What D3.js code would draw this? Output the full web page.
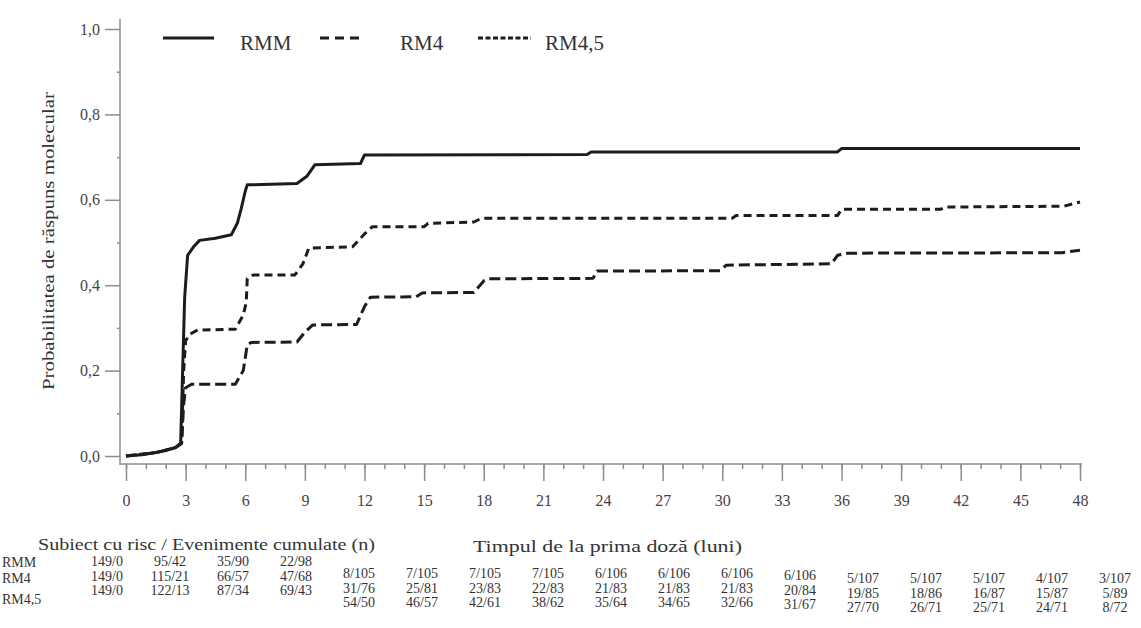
<!DOCTYPE html>
<html lang="ro">
  <head>
    <meta charset="UTF-8" />
    <title>Probabilitatea de răspuns molecular</title>
    <style>
      body {
        margin: 0;
        background: #fff;
      }
      svg text {
        font-family: "Liberation Serif", "DejaVu Serif", serif;
        fill: #333;
      }
      .axis path,
      .axis line {
        stroke: #8c8c8c;
        stroke-width: 1.5px;
      }
      .axis text {
        font-size: 16px;
        fill: #444;
      }
      .curve {
        fill: none;
        stroke: #1c1c1c;
        stroke-width: 3px;
        stroke-linejoin: round;
      }
    </style>
  </head>

  <body>
    <script src="https://cdn.jsdelivr.net/npm/d3@7"></script>
    <script>
      /* global d3 */

      const width = 1141,
        height = 628;

      // Kaplan-Meier curves, [months, probability]
      const rmm = [
        [0, 0], [0.8, 0.003], [1.5, 0.008], [2.0, 0.013], [2.5, 0.02],
        [2.75, 0.03], [2.85, 0.2], [2.95, 0.37], [3.1, 0.47], [3.4, 0.49],
        [3.7, 0.505], [4.5, 0.51], [5.3, 0.518], [5.6, 0.545], [5.8, 0.58],
        [6.0, 0.62], [6.1, 0.635], [8.6, 0.638], [9.1, 0.655], [9.5, 0.682],
        [11.8, 0.685], [12.0, 0.705], [23.2, 0.706], [23.4, 0.712],
        [35.8, 0.712], [36.0, 0.72], [48, 0.72]
      ];
      const rm4 = [
        [0, 0], [1.5, 0.008], [2.5, 0.02], [2.8, 0.03], [2.9, 0.2],
        [3.0, 0.27], [3.2, 0.285], [3.6, 0.295], [5.5, 0.297], [5.9, 0.33],
        [6.05, 0.36], [6.1, 0.415], [6.4, 0.424], [8.5, 0.424], [8.9, 0.45],
        [9.2, 0.487], [11.4, 0.49], [12.0, 0.52], [12.4, 0.537], [15.0, 0.537],
        [15.2, 0.545], [17.5, 0.548], [17.9, 0.557], [30.5, 0.557],
        [30.7, 0.563], [35.8, 0.563], [36.0, 0.578], [41.0, 0.578],
        [41.2, 0.583], [47.2, 0.585], [48, 0.595]
      ];
      const rm45 = [
        [0, 0], [1.5, 0.008], [2.5, 0.02], [2.8, 0.03], [2.9, 0.12],
        [3.0, 0.16], [3.3, 0.168], [5.5, 0.168], [5.9, 0.2], [6.1, 0.26],
        [6.3, 0.266], [8.6, 0.267], [9.0, 0.29], [9.4, 0.307], [11.6, 0.308],
        [12.0, 0.35], [12.3, 0.372], [14.6, 0.373], [14.9, 0.382],
        [17.5, 0.383], [18.0, 0.41], [18.2, 0.415], [23.5, 0.416],
        [23.7, 0.433], [29.9, 0.434], [30.2, 0.447], [35.5, 0.45],
        [35.8, 0.47], [36.3, 0.475], [47.1, 0.476], [48, 0.482]
      ];

      const seriesNames = ["RMM", "RM4", "RM4,5"];

      const xTicks = d3.range(0, 49, 3);
      const yTicks = [0, 0.2, 0.4, 0.6, 0.8, 1.0];

      // risk table: subjects at risk / cumulative events, one per x tick
      const riskRMM = ["149/0", "95/42", "35/90", "22/98", "8/105", "7/105", "7/105",
        "7/105", "6/106", "6/106", "6/106", "6/106", "5/107", "5/107", "5/107",
        "4/107", "3/107"];
      const riskRM4 = ["149/0", "115/21", "66/57", "47/68", "31/76", "25/81", "23/83",
        "22/83", "21/83", "21/83", "21/83", "20/84", "19/85", "18/86", "16/87",
        "15/87", "5/89"];
      const riskRM45 = ["149/0", "122/13", "87/34", "69/43", "54/50", "46/57", "42/61",
        "38/62", "35/64", "34/65", "32/66", "31/67", "27/70", "26/71", "25/71",
        "24/71", "8/72"];

      const svg = d3
        .select("body")
        .append("svg")
        .attr("width", width)
        .attr("height", height)
        .style("font-family", "'Liberation Serif', serif");

      const x = d3.scaleLinear().domain([0, 48]).range([126, 1080]);
      const y = d3.scaleLinear().domain([0, 1]).range([456, 29]);

      const fmt = d => d3.format(".1f")(d).replace(".", ",");

      // x axis (minor ticks every month, labels every 3)
      const xAxisY = 464;
      svg
        .append("g")
        .attr("class", "axis")
        .attr("transform", `translate(0,${xAxisY})`)
        .call(d3.axisBottom(x).tickValues(d3.range(0, 49, 1)).tickSize(5).tickFormat(""))
        .call(g => g.select(".domain").remove());
      svg
        .append("g")
        .attr("class", "axis")
        .attr("transform", `translate(0,${xAxisY})`)
        .call(d3.axisBottom(x).tickValues(xTicks).tickSize(17).tickPadding(14))
        .call(g => g.attr("font-family", null).select(".domain").remove());
      svg
        .append("line")
        .attr("x1", 121)
        .attr("x2", x(48) + 2)
        .attr("y1", xAxisY)
        .attr("y2", xAxisY)
        .attr("stroke", "#8c8c8c")
        .attr("stroke-width", 1.5);

      // y axis
      const yAxisX = 120;
      svg
        .append("g")
        .attr("class", "axis")
        .attr("transform", `translate(${yAxisX},0)`)
        .call(d3.axisLeft(y).tickValues(d3.range(0.1, 1, 0.2)).tickSize(3).tickFormat(""))
        .call(g => g.select(".domain").remove());
      svg
        .append("g")
        .attr("class", "axis")
        .attr("transform", `translate(${yAxisX},0)`)
        .call(d3.axisLeft(y).tickValues(yTicks).tickSize(15).tickPadding(5).tickFormat(fmt))
        .call(g => g.attr("font-family", null).select(".domain").remove());
      svg
        .append("line")
        .attr("x1", yAxisX)
        .attr("x2", yAxisX)
        .attr("y1", y(1) - 10)
        .attr("y2", xAxisY + 1)
        .attr("stroke", "#8c8c8c")
        .attr("stroke-width", 1.5);

      svg
        .append("text")
        .attr("transform", "translate(54,241) rotate(-90)")
        .attr("text-anchor", "middle")
        .attr("textLength", 298)
        .attr("lengthAdjust", "spacingAndGlyphs")
        .style("font-size", "17px")
        .text("Probabilitatea de răspuns molecular");

      // curves
      const line = d3
        .line()
        .x(d => x(d[0]))
        .y(d => y(d[1]));

      const curves = [
        { name: "RMM", data: rmm, dash: null },
        { name: "RM4", data: rm4, dash: "8,5" },
        { name: "RM4,5", data: rm45, dash: "11,5" }
      ];

      svg
        .selectAll(".curve")
        .data(curves)
        .join("path")
        .attr("class", "curve")
        .attr("d", d => line(d.data))
        .attr("stroke-dasharray", d => d.dash);

      // legend
      const legend = [
        { name: seriesNames[0], x1: 163, x2: 214, tx: 240, dash: null },
        { name: seriesNames[1], x1: 320, x2: 364, tx: 400, dash: "9,6" },
        { name: seriesNames[2], x1: 478, x2: 531, tx: 545, dash: "5,2.5" }
      ];
      const lg = svg.append("g");
      lg.selectAll("line")
        .data(legend)
        .join("line")
        .attr("x1", d => d.x1)
        .attr("x2", d => d.x2)
        .attr("y1", 38)
        .attr("y2", 38)
        .attr("stroke", "#1c1c1c")
        .attr("stroke-width", 3)
        .attr("stroke-dasharray", d => d.dash);
      lg.selectAll("text")
        .data(legend)
        .join("text")
        .attr("x", d => d.tx)
        .attr("y", 50)
        .style("font-size", "21px")
        .text(d => d.name);

      // risk table
      svg
        .append("text")
        .attr("x", 38)
        .attr("y", 550)
        .attr("textLength", 337)
        .attr("lengthAdjust", "spacingAndGlyphs")
        .style("font-size", "16px")
        .text("Subiect cu risc / Evenimente cumulate (n)");
      svg
        .append("text")
        .attr("x", 473)
        .attr("y", 552)
        .attr("textLength", 269)
        .attr("lengthAdjust", "spacingAndGlyphs")
        .style("font-size", "17px")
        .text("Timpul de la prima doză (luni)");

      const col = d3.scalePoint().domain(d3.range(17)).range([107, 1115]);
      // baseline of the first row per column (the scanned table is slightly skewed)
      const colBase = i => (i < 4 ? 566 : i < 11 ? 578 : i < 12 ? 580 : 583);
      const rowStep = 14.5;

      const rows = [riskRMM, riskRM4, riskRM45];
      const rowLabelY = [567, 583, 604];

      rows.forEach((vals, r) => {
        svg
          .append("text")
          .attr("x", 2)
          .attr("y", rowLabelY[r])
          .style("font-size", "14px")
          .text(seriesNames[r]);
        svg
          .append("g")
          .selectAll("text")
          .data(vals)
          .join("text")
          .attr("x", (d, i) => col(i))
          .attr("y", (d, i) => colBase(i) + r * rowStep)
          .attr("text-anchor", "middle")
          .style("font-size", "14px")
          .text(d => d);
      });
    </script>
  </body>
</html>
